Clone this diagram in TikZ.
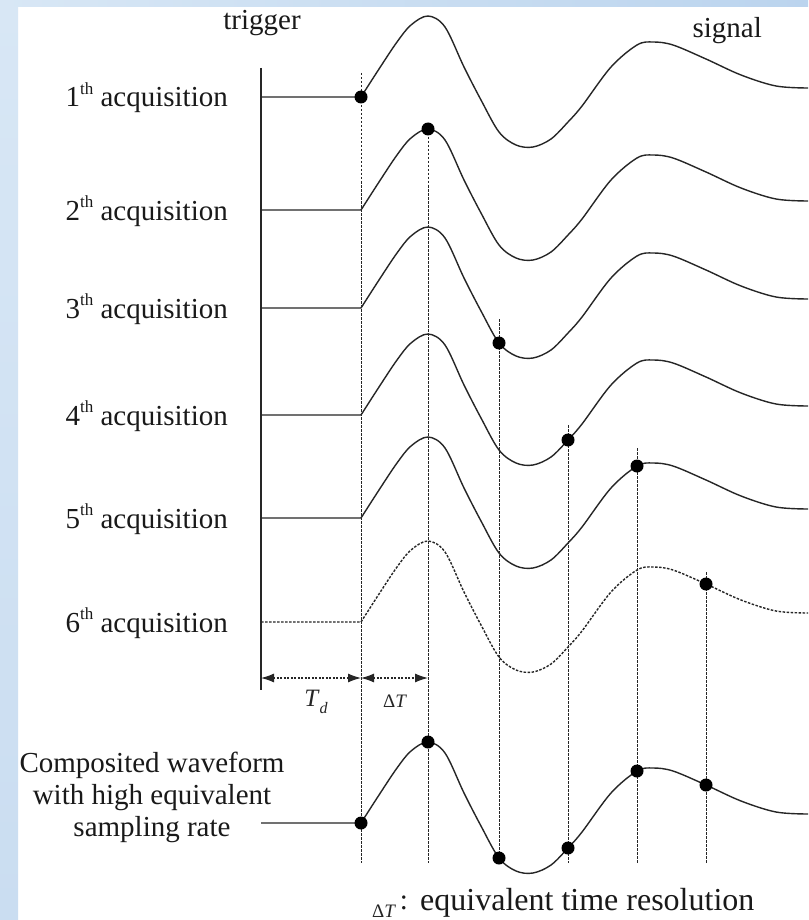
\documentclass[tikz,border=0pt]{standalone}
\usepackage{fontspec}
\setmainfont{Liberation Serif}
\usetikzlibrary{arrows.meta}
\definecolor{ink}{HTML}{262626}
\definecolor{bgA}{HTML}{D8E7F5}
\definecolor{bgB}{HTML}{BBD4EE}
\definecolor{bgC}{HTML}{CADDF1}
\newcommand\supth{\raisebox{0.42em}{\fontsize{17}{17}\selectfont th}}
\begin{document}
\begin{tikzpicture}[x=1pt,y=-1pt,
  wave/.style={draw=ink, line width=1.4pt, line join=round},
  dashwave/.style={wave, dash pattern=on 2.5pt off 1.5pt},
  vline/.style={draw=ink, line width=0.9pt, dash pattern=on 2.5pt off 1.5pt},
  dot/.style={circle, fill=black, inner sep=0pt, minimum size=13pt},
  lbl/.style={font=\fontsize{29}{31}\selectfont, text=black!90, inner sep=0pt},
  dimarrow/.style={draw=ink, line width=1.1pt, dash pattern=on 2pt off 1.5pt, {Latex[length=13pt,width=9pt]}-{Latex[length=13pt,width=9pt]}},
]
\useasboundingbox (0,0) rectangle (808,920);
\fill[white] (0,0) rectangle (808,920);
\shade[top color=bgA, bottom color=bgC] (0,0) rectangle (18,920);
\shade[left color=bgA, right color=bgB] (0,0) rectangle (808,7);

% vertical dotted guides
\coordinate (v1t) at (361,73);  \coordinate (v1b) at (361,863);
\coordinate (v2t) at (428,129); \coordinate (v2b) at (428,863);
\coordinate (v3t) at (499,319); \coordinate (v3b) at (499,863);
\coordinate (v4t) at (568,425); \coordinate (v4b) at (568,863);
\coordinate (v5t) at (637,448); \coordinate (v5b) at (637,863);
\coordinate (v6t) at (706,572); \coordinate (v6b) at (706,863);
\foreach \i in {1,...,6} \draw[vline] (v\i t) -- (v\i b);

% trigger line
\coordinate (trt) at (261,68); \coordinate (trb) at (261,690);
\draw[wave, line width=1.2pt] (trt) -- (trb);

% waveforms
\foreach \b in {97,210,308,415,518,823}{
  \begin{scope}[shift={(361,\b)}]
    \draw[wave] (-100,0) -- plot[smooth, tension=0.55] coordinates {(0,0) (18,-28) (36,-55) (50,-72) (67,-81) (84,-70) (103,-30) (120,3) (138,35) (155,48) (172,50) (190,42) (207,25) (221,9) (250,-30) (276,-52) (292,-55) (312,-52) (345,-38) (380,-22) (415,-11) (447,-9)};
  \end{scope}
}
\begin{scope}[shift={(361,622)}]
  \draw[dashwave] (-100,0) -- plot[smooth, tension=0.55] coordinates {(0,0) (18,-28) (36,-55) (50,-72) (67,-81) (84,-70) (103,-30) (120,3) (138,35) (155,48) (172,50) (190,42) (207,25) (221,9) (250,-30) (276,-52) (292,-55) (312,-52) (345,-38) (380,-22) (415,-11) (447,-9)};
\end{scope}

% sample dots
\node[dot] (p1) at (361,97) {};
\node[dot] (p2) at (428,129) {};
\node[dot] (p3) at (499,343) {};
\node[dot] (p4) at (568,440) {};
\node[dot] (p5) at (637,466) {};
\node[dot] (p6) at (706,584) {};
\node[dot] (q1) at (361,823) {};
\node[dot] (q2) at (428,742) {};
\node[dot] (q3) at (499,858) {};
\node[dot] (q4) at (568,848) {};
\node[dot] (q5) at (637,771) {};
\node[dot] (q6) at (706,785) {};

% dimension arrows
\coordinate (a0) at (261,678); \coordinate (a1) at (361,678); \coordinate (a2) at (428,678);
\draw[dimarrow] (a0) -- (a1);
\draw[dimarrow] (a1) -- (a2);
\node[text=ink, inner sep=0pt] (td) at (316,702) {\fontsize{25}{25}\selectfont\textit{T}\raisebox{-0.3em}{\fontsize{16}{16}\selectfont\itshape d}};
\node[text=ink, inner sep=0pt] (dt) at (395,701) {\fontsize{19}{19}\selectfont Δ\textit{T}};

% labels
\node[lbl, anchor=base] (trg) at (262,30) {trigger};
\node[lbl, anchor=base east] (sig) at (762,38) {signal};
\node[lbl, anchor=base east] (l1) at (228,107) {1\supth\ acquisition};
\node[lbl, anchor=base east] (l2) at (228,220) {2\supth\ acquisition};
\node[lbl, anchor=base east] (l3) at (228,318) {3\supth\ acquisition};
\node[lbl, anchor=base east] (l4) at (228,425) {4\supth\ acquisition};
\node[lbl, anchor=base east] (l5) at (228,528) {5\supth\ acquisition};
\node[lbl, anchor=base east] (l6) at (228,632) {6\supth\ acquisition};
\node[lbl, anchor=base] (c1) at (152,772) {Composited waveform};
\node[lbl, anchor=base] (c2) at (152,804) {with high equivalent};
\node[lbl, anchor=base] (c3) at (152,836) {sampling rate};
\node[text=ink, inner sep=0pt] (dtb) at (384,911) {\fontsize{19}{19}\selectfont Δ\textit{T}};
\node[lbl, anchor=base] (col) at (404,909) {:};
\node[lbl, anchor=base west, font=\fontsize{32}{34}\selectfont] (eq) at (420,910) {equivalent time resolution};
\end{tikzpicture}
\end{document}
